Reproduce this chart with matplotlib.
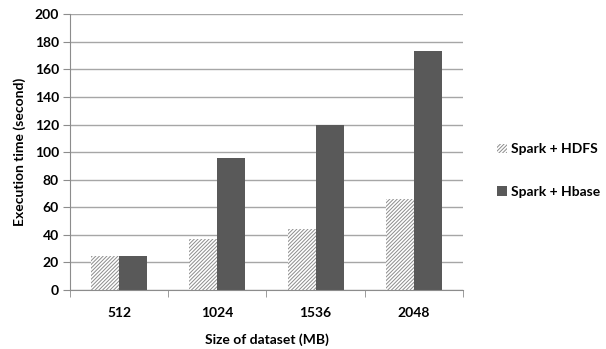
import matplotlib.pyplot as plt
import numpy as np

plt.rcParams['font.family'] = ['Lato', 'DejaVu Sans']
plt.rcParams['hatch.color'] = '#8c8c8c'
plt.rcParams['hatch.linewidth'] = 0.7

sizes = ['512', '1024', '1536', '2048']
hdfs = [24.5, 37, 44.5, 66]
hbase = [24.5, 95.5, 120, 173.5]

fig = plt.figure(figsize=(6.06, 3.49), dpi=100)
ax = fig.add_axes([0.1155, 0.169, 0.6485, 0.79])

x = np.arange(len(sizes))
w = 0.285
ax.bar(x - w / 2, hdfs, w, color='white', hatch='/////////', linewidth=0, label='Spark + HDFS')
ax.bar(x + w / 2, hbase, w, color='#595959', linewidth=0, label='Spark + Hbase')

ax.set_xlim(-0.5, len(sizes) - 0.5)
ax.set_ylim(0, 200)
ax.set_yticks(range(0, 201, 20))
ax.set_xticks(x)
ax.set_xticklabels(sizes)
ax.set_xticks(np.arange(-0.5, len(sizes)), minor=True)
ax.tick_params(axis='x', which='major', length=0, pad=12)
ax.tick_params(axis='x', which='minor', length=5, color='#8c8c8c', direction='out')
ax.tick_params(axis='y', length=5, color='#8c8c8c', pad=3)
for lab in ax.get_xticklabels() + ax.get_yticklabels():
    lab.set_fontweight('bold')
    lab.set_fontsize(10)

ax.grid(axis='y', color='#a6a6a6', linewidth=1)
ax.set_axisbelow(True)
for s in ['top', 'right']:
    ax.spines[s].set_visible(False)
ax.spines['left'].set_color('#8c8c8c')
ax.spines['bottom'].set_color('#8c8c8c')

ax.set_xlabel('Size of dataset (MB)', fontsize=10, fontweight='bold', labelpad=10.5)
ax.set_ylabel('Execution time (second)', fontsize=10, fontweight='bold', labelpad=6)

fig.legend(loc='upper left', bbox_to_anchor=(0.8, 0.625), frameon=False,
           prop={'weight': 'bold', 'size': 10}, handlelength=0.7, handleheight=0.7,
           handletextpad=0.3, labelspacing=2.2)

fig.savefig('out.png', dpi=100)
